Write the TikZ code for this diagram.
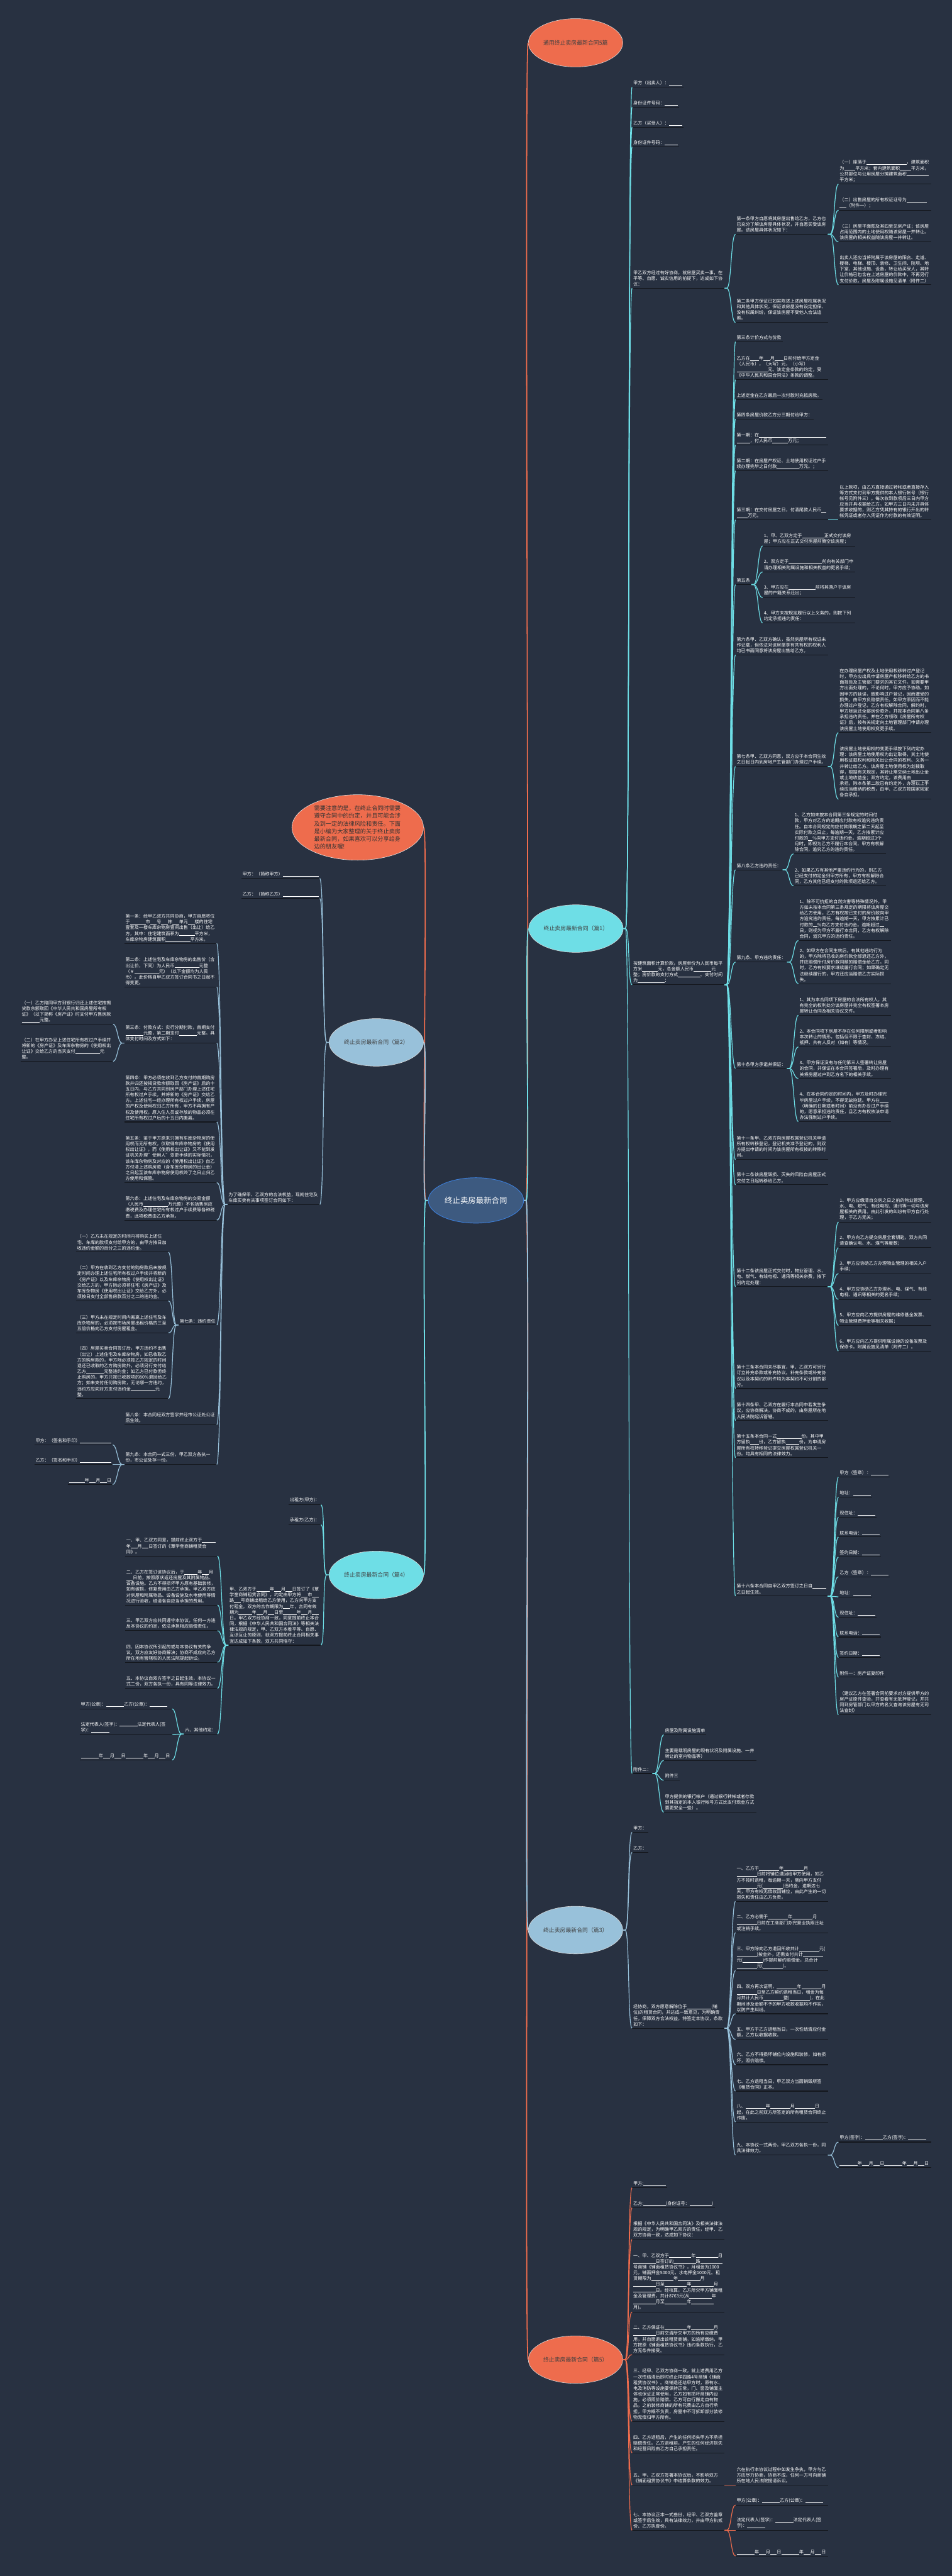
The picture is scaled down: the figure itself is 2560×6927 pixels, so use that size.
\documentclass[tikz,border=0pt]{standalone}
\usepackage{fontspec}
\setmainfont{Noto Sans CJK SC}
\usepackage{tikz}
\usetikzlibrary{shapes.geometric}
\XeTeXlinebreaklocale "zh"
\XeTeXlinebreakskip=0pt plus 0.1pt
\definecolor{bgNavy}{RGB}{40,49,65}
\definecolor{mapCyan}{RGB}{110,222,230}
\definecolor{mapBlue}{RGB}{152,193,218}
\definecolor{mapOrange}{RGB}{238,108,77}
\definecolor{ctrFill}{RGB}{61,90,128}
\definecolor{ctrEdge}{RGB}{60,125,215}
\definecolor{ulDark}{RGB}{20,23,29}
\newcommand{\leaffont}{\fontsize{6}{7.75}\selectfont}
\newcommand{\fillin}[1]{\hskip0pt\rule[-0.6pt]{#1\dimexpr0.5em\relax}{0.35pt}\hskip0pt}

\begin{document}
\begin{tikzpicture}[x=0.5pt, y=-0.5pt,
    uline/.style={draw=ulDark, line width=0.9pt},
    leaf/.style={font=\leaffont, text=white, inner xsep=1.5pt, inner ysep=2.5pt, align=flush left,
      append after command={(\tikzlastnode.south west) edge[uline] (\tikzlastnode.south east)}},
    lr/.style={leaf, anchor=south west},
    ll/.style={leaf, anchor=south east},
    wide/.style={text width=121pt},
    branch/.style={ellipse, draw=white!85!black, line width=0.5pt, minimum width=127pt,
      minimum height=64pt, inner sep=0pt, font=\fontsize{7.5}{9}\selectfont, text=black!75},
    cR/.style={line width=1pt, to path={-- ++(6,0) .. controls +(12,0) and +(-12,0) .. (\tikztotarget)}},
    cL/.style={line width=1pt, to path={-- ++(-6,0) .. controls +(-12,0) and +(12,0) .. (\tikztotarget)}}
  ]
    \useasboundingbox (0,0) rectangle (2560,6927);
    \fill[bgNavy] (0,0) rectangle (2560,6927);

    % Center and main branches
    \node[ellipse, fill=ctrFill, draw=ctrEdge, line width=0.8pt, minimum width=123pt,
      minimum height=61pt, font=\fontsize{10.5}{12}\selectfont, text=white] (ctr) at (1280,3228) {终止卖房最新合同};
    \node[branch, fill=mapOrange, minimum height=65pt] (ttl) at (1548,115) {通用终止卖房最新合同5篇};
    \node[ellipse, fill=mapOrange, draw=white!90!black, line width=0.5pt, minimum width=177pt,
      minimum height=88pt, inner sep=0pt, text width=117pt, align=flush left,
      font=\fontsize{7.75}{10.35}\selectfont, text=black!80] (tip) at (962,2225)
      {需要注意的是，在终止合同时需要遵守合同中的约定，并且可能会涉及到一定的法律风险和责任。下面是小编为大家整理的关于终止卖房最新合同，如果喜欢可以分享给身边的朋友喔!};
    \node[branch, fill=mapCyan] (p1) at (1549,2497) {终止卖房最新合同（篇1）};
    \node[branch, fill=mapBlue] (p2) at (1012,2803) {终止卖房最新合同（篇2）};
    \node[branch, fill=mapBlue] (p3) at (1548,5190) {终止卖房最新合同（篇3）};
    \node[branch, fill=mapCyan] (p4) at (1012,4235) {终止卖房最新合同（篇4）};
    \node[branch, fill=mapOrange] (p5) at (1548,6345) {终止卖房最新合同（篇5）};

    % 篇1
    \node[lr] (a1) at (1700,234) {甲方（出卖人）：\fillin{6}};
    \node[lr] (a2) at (1700,288) {身份证件号码：\fillin{6}};
    \node[lr] (a3) at (1700,342) {乙方（买受人）：\fillin{6}};
    \node[lr] (a4) at (1700,395) {身份证件号码：\fillin{6}};
    \node[lr, wide] (a5) at (1700,775) {甲乙双方经过有好协商，就房屋买卖一事，在平等、自愿、诚实信用的前提下，达成如下协议：};
    \node[lr, wide] (a5a) at (1978,630) {第一条甲方自愿将其房屋出售给乙方，乙方也已充分了解该房屋具体状况，并自愿买受该房屋。该房屋具体状况如下：};
    \node[lr, wide] (a5a1) at (2255,495) {（一）座落于\fillin{18}，建筑面积为\fillin{5}平方米；套内建筑面积\fillin{5}平方米，公共部位与公用房屋分摊建筑面积\fillin{5}\fillin{5}平方米；};
    \node[lr, wide] (a5a2) at (2255,565) {（二）出售房屋的所有权证证号为\fillin{9}\fillin{3}（附件一）；};
    \node[lr, wide] (a5a3) at (2255,650) {（三）房屋平面图及其四至见房产证；该房屋占用范围内的土地使用权随该房屋一并转让。该房屋的相关权益随该房屋一并转让。};
    \node[lr, wide] (a5a4) at (2255,766) {出卖人还应当将附属于该房屋的阳台、走道、楼梯、电梯、楼顶、装修、卫生间、院坝、地下室、其他设施、设备，转让给买受人，其转让价格已包含在上述房屋的价款中，不再另行支付价款。房屋及附属设施见清单（附件二）};
    \node[lr, wide] (a5b) at (1978,867) {第二条甲方保证已如实陈述上述房屋权属状况和其他具体状况，保证该房屋没有设定担保、没有权属纠纷，保证该房屋不受他人合法追索。};
    \node[lr, wide] (a6) at (1700,2648) {按建筑面积计算价款，房屋单价为人民币每平方米\fillin{7}元，总金额人民币\fillin{8}元整；房价款的支付方式\fillin{10}、支付时间为\fillin{3}\fillin{9}：};
    \node[lr] (a6a) at (1978,919) {第三条计价方式与价款};
    \node[lr, wide] (a6b) at (1978,1021) {乙方在\fillin{4}年\fillin{3}月\fillin{4}日前付给甲方定金（人民币），（大写）元，（小写）\fillin{10}\fillin{4}元。该定金条款的约定，受《中华人民共和国合同法》条款的调整。};
    \node[lr] (a6c) at (1978,1074) {上述定金在乙方最后一次付款时充抵房款。};
    \node[lr] (a6d) at (1978,1127) {第四条房屋价款乙方分三期付给甲方：};
    \node[lr, wide] (a6e) at (1978,1197) {第一期：在\fillin{30}\fillin{6}，付人民币\fillin{7}万元；};
    \node[lr, wide] (a6f) at (1978,1266) {第二期：在房屋产权证、土地使用权证过户手续办理完毕之日付款\fillin{10}万元。；};
    \node[lr, wide] (a6g) at (1978,1398) {第三期：在交付房屋之日，付清尾款人民币\fillin{2}\fillin{5}万元。};
    \node[lr, wide] (a6g1) at (2255,1398) {以上款项，由乙方直接通过转帐或者直接存入等方式支付到甲方提供的本人银行帐号（银行帐号见附件三）。每次收到款项后三日内甲方应当开具收据给乙方。如甲方三日内未开具体要求收据的，则乙方凭其持有的银行开出的转帐凭证或者存入凭证作为付款的有效证明。};
    \node[lr] (a6h) at (1978,1572) {第五条};
    \node[lr, wide] (a6h1) at (2051,1468) {1、甲、乙双方定于\fillin{10}正式交付该房屋；甲方应在正式交付房屋前腾空该房屋；};
    \node[lr, wide] (a6h2) at (2051,1538) {2、双方定于\fillin{15}前向有关部门申请办理相关附属设施和相关权益的更名手续；};
    \node[lr, wide] (a6h3) at (2051,1607) {3、甲方应在\fillin{12}前将其落户于该房屋的户籍关系迁出；};
    \node[lr, wide] (a6h4) at (2051,1675) {4、甲方未按规定履行以上义务的，则按下列约定承担违约责任：};
    \node[lr, wide] (a6i) at (1978,1761) {第六条甲、乙双方确认，虽然房屋所有权证未作记载，但依法对该房屋享有共有权的权利人均已书面同意将该房屋出售给乙方。};
    \node[lr, wide] (a6j) at (1978,2061) {第七条甲、乙双方同意，双方应于本合同生效之日起日内到房地产主管部门办理过户手续。};
    \node[lr, wide] (a6j1) at (2255,1970) {在办理房屋产权及土地使用权移转过户登记时，甲方应出具申请房屋产权移转给乙方的书面报告及主管部门要求的其它文件。如需要甲方出面处理的，不论何时，甲方应予协助。如因甲方的延误，致影响过户登记，因而遭受的损失，由甲方负赔偿责任。如甲方原因而不能办理过户登记，乙方有权解除合同，解约时，甲方除返还全部房价款外，并按本合同第八条承担违约责任。并在乙方领取《房屋所有权证》后，按有关规定向土地管理部门申请办理该房屋土地使用权变更手续。};
    \node[lr, wide] (a6j2) at (2255,2149) {该房屋土地使用权的变更手续按下列约定办理：该房屋土地使用权为出让取得，其土地使用权证载权利和相关出让合同的权利、义务一并转让给乙方。该房屋土地使用权为划拨取得，根据有关规定，其转让需交纳土地出让金或土地收益金；双方约定，该费用由\fillin{8}承担。除本条第二款已有约定外，办理以上手续应当缴纳的税费，由甲、乙双方按国家规定各自承担。};
    \node[lr] (a6k) at (1978,2339) {第八条乙方违约责任：};
    \node[lr, wide] (a6k1) at (2134,2296) {1、乙方如未按本合同第三条规定的时间付款，甲方对乙方的逾期应付款有权追究违约责任。自本合同规定的应付款限期之第二天起至实际付款之日止，每逾期一天，乙方按累计应付款的\fillin{2}\%向甲方支付违约金。逾期超过3个月时，即视为乙方不履行本合同，甲方有权解除合同，追究乙方的违约责任。};
    \node[lr, wide] (a6k2) at (2134,2382) {2、如果乙方有其他严重违约行为的，则乙方已经支付的定金归甲方所有，甲方有权解除合同，乙方其他已经支付的款项退还给乙方。};
    \node[lr] (a6l) at (1978,2587) {第九条、甲方违约责任：};
    \node[lr, wide] (a6l1) at (2147,2529) {1、除不可抗拒的自然灾害等特殊情况外，甲方如未按本合同第三条规定的期限将该房屋交给乙方使用，乙方有权按已支付的房价款向甲方追究违约责任。每逾期一天，甲方按累计已付款的\fillin{2}\%向乙方支付违约金。逾期超过\fillin{2}日，则视为甲方不履行本合同，乙方有权解除合同，追究甲方的违约责任。};
    \node[lr, wide] (a6l2) at (2147,2645) {2、如甲方在合同生效后，有其他违约行为的，甲方除将已收的房价款全部退还乙方外，并应赔偿所付房价款同额的赔偿金给乙方。同时，乙方有权要求继续履行合同；如果确定无法继续履行的，甲方还应当赔偿乙方实际损失。};
    \node[lr] (a6m) at (1978,2873) {第十条甲方承诺并保证：};
    \node[lr, wide] (a6m1) at (2147,2730) {1、其为本合同项下房屋的合法所有权人，其有完全的权利处分该房屋并完全有权签署本房屋转让合同及相关协议文件。};
    \node[lr, wide] (a6m2) at (2147,2815) {2、本合同项下房屋不存在任何限制或者影响本次转让的情形，包括但不限于查封、冻结、抵押、共有人反对（如有）等情况。};
    \node[lr, wide] (a6m3) at (2147,2900) {3、甲方保证没有与任何第三人签署转让房屋的合同，并保证在本合同签署后，及时办理有关将房屋过户到乙方名下的相关手续。};
    \node[lr, wide] (a6m4) at (2147,3016) {4、在本合同约定的时间内，甲方及时办理完毕房屋过户手续，不得无故拖延。甲方在\fillin{4}（明确的日期或者时间）前没有办妥过户手续的，愿意承担违约责任，且乙方有权依法申请办法强制过户手续。};
    \node[lr, wide] (a6n) at (1978,3118) {第十一条甲、乙双方向房屋权属登记机关申请所有权转移登记，登记机关准予登记的，则双方提出申请的时间为该房屋所有权按的转移时间。};
    \node[lr, wide] (a6o) at (1978,3186) {第十二条该房屋毁损、灭失的风险自房屋正式交付之日起转移给乙方。};
    \node[lr, wide] (a6p) at (1978,3460) {第十二条该房屋正式交付时，物业管理、水、电、燃气、有线电视、通讯等相关杂费，按下列约定处理：};
    \node[lr, wide] (a6p1) at (2255,3286) {1、甲方应缴清自交房之日之前的物业管理、水、电、燃气、有线电视、通讯等一切与该房屋相关的费用。由此引发的纠纷有甲方自行处理，于乙方无关；};
    \node[lr, wide] (a6p2) at (2255,3355) {2、甲方向乙方提交房屋全套钥匙，双方共同清查确认电、水、煤气等度数；};
    \node[lr, wide] (a6p3) at (2255,3425) {3、甲方应协助乙方办理物业管理的相关入户手续；};
    \node[lr, wide] (a6p4) at (2255,3494) {4、甲方应协助乙方办理水、电、煤气、有线电视、通讯等相关的更名手续；};
    \node[lr, wide] (a6p5) at (2255,3564) {5、甲方应向乙方提供房屋的维修基金发票、物业管理费押金等相关收据；};
    \node[lr, wide] (a6p6) at (2255,3633) {6、甲方应向乙方提供附属设施的设备发票及保修卡。附属设施见清单（附件二）。};
    \node[lr, wide] (a6q) at (1978,3734) {第十三条本合同未尽事宜，甲、乙双方可另行订立补充条款或补充协议。补充条款或补充协议以及本契约的附件均为本契约不可分割的部分。};
    \node[lr, wide] (a6r) at (1978,3820) {第十四条甲、乙双方在履行本合同中若发生争议，应协商解决。协商不成的，由房屋所在地人民法院起诉管辖。};
    \node[lr, wide] (a6s) at (1978,3920) {第十五条本合同一式\fillin{11}份。其中甲方留执\fillin{4}份，乙方留执\fillin{6}份，为申请房屋所有权转移登记提交房屋权属登记机关一份。均具有相同的法律效力。};
    \node[lr, wide] (a6t) at (1978,4292) {第十六条本合同自甲乙双方签订之日自\fillin{5}\fillin{1}之日起生效。};
    \node[lr] (a6t1) at (2255,3972) {甲方（签章）：\fillin{8}};
    \node[lr] (a6t2) at (2255,4026) {地址：\fillin{8}};
    \node[lr] (a6t3) at (2255,4080) {现住址：\fillin{8}};
    \node[lr] (a6t4) at (2255,4133) {联系电话：\fillin{8}};
    \node[lr] (a6t5) at (2255,4187) {签约日期：\fillin{8}};
    \node[lr] (a6t6) at (2255,4240) {乙方（签章）：\fillin{8}};
    \node[lr] (a6t7) at (2255,4294) {地址：\fillin{8}};
    \node[lr] (a6t8) at (2255,4349) {现住址：\fillin{8}};
    \node[lr] (a6t9) at (2255,4402) {联系电话：\fillin{8}};
    \node[lr] (a6t10) at (2255,4457) {签约日期：\fillin{8}};
    \node[lr] (a6t11) at (2255,4510) {附件一：房产证复印件};
    \node[lr, wide] (a6t12) at (2255,4611) {（建议乙方在签署合同前要求对方提供甲方的房产证原件查验，并查看有无抵押登记，并共同到房管部门以甲方的名义查询该房屋有无司法查封）};
    \node[lr] (a7) at (1700,4769) {附件二：};
    \node[lr] (a7a) at (1785,4665) {房屋及附属设施清单};
    \node[lr, wide] (a7b) at (1785,4734) {主要是载明房屋的现有状况及附属设施、一并转让的室内物品等）};
    \node[lr] (a7c) at (1785,4787) {附件三};
    \node[lr, wide] (a7d) at (1785,4873) {甲方提供的银行帐户（通过银行转帐或者存款到其指定的本人银行帐号方式比支付现金方式要更安全一些）。};

    % 篇3
    \node[lr] (c1) at (1700,4927) {甲方：};
    \node[lr] (c2) at (1700,4981) {乙方：};
    \node[lr, wide] (c3) at (1700,5454) {经协商，双方愿意解除位于\fillin{11}(铺位)的租赁合同，并达成一致意见，为明确责任，保障双方合法权益，特签定本协议，条款如下：};
    \node[lr, wide] (c3a) at (1978,5113) {一、乙方于\fillin{9}年\fillin{9}月\fillin{9}日前将铺位退回给甲方使用，如乙方不按时退租，每逾期一天，需向甲方支付\fillin{9}元(\fillin{9})违约金，逾期达七天，甲方有权无偿收回铺位，由此产生的一切损失和责任由乙方负责。};
    \node[lr, wide] (c3b) at (1978,5197) {二、乙方必需于\fillin{9}年\fillin{9}月\fillin{5}\fillin{4}日前在工商部门办完营业执照迁址或注销手续。};
    \node[lr, wide] (c3c) at (1978,5299) {三、甲方除向乙方退回所收共计\fillin{9}元(\fillin{9})按金外，还需支付共计\fillin{9}元(\fillin{9})作提前解约赔偿金，总合计\fillin{9}元(\fillin{9})。};
    \node[lr, wide] (c3d) at (1978,5415) {四、双方再次证明，\fillin{9}年\fillin{9}月\fillin{2}\fillin{7}日至乙方解约退租当日，租金为每月共计人民币\fillin{9}整(\fillin{9})，在此期间涉及金额不予的甲方收款收据均不作实，以防产生纠纷。};
    \node[lr, wide] (c3e) at (1978,5484) {五、甲方于乙方退租当日，一次性结清应付金额，乙方以收据收款。};
    \node[lr, wide] (c3f) at (1978,5552) {六、乙方不得损坏铺位内设施和装修，如有损坏，照价赔偿。};
    \node[lr, wide] (c3g) at (1978,5623) {七、乙方退租当日，甲乙双方当面销毁所签《租赁合同》正本。};
    \node[lr, wide] (c3h) at (1978,5706) {八、\fillin{9}年\fillin{9}月\fillin{9}日起，在此之前双方所签定的所有租赁合同终止作废。};
    \node[lr, wide] (c3i) at (1978,5795) {九、本协议一式两份，甲乙双方各执一份，同具法律效力。};
    \node[lr, wide] (c3i1) at (2255,5760) {甲方(签字)：\fillin{8}乙方(签字)：\fillin{8}};
    \node[lr, wide] (c3i2) at (2255,5829) {\fillin{8}年\fillin{3}月\fillin{3}日\fillin{8}年\fillin{3}月\fillin{3}日};

    % 篇5
    \node[lr] (e1) at (1700,5883) {甲方:\fillin{10}};
    \node[lr] (e2) at (1700,5937) {乙方:\fillin{10}(身份证号：\fillin{10})};
    \node[lr, wide] (e3) at (1700,6022) {根据《中华人民共和国合同法》及相关法律法规的规定，为明确甲乙双方的责任，经甲、乙双方协商一致，达成如下协议：};
    \node[lr, wide] (e4) at (1700,6217) {一、甲、乙双方于\fillin{10}年\fillin{10}月\fillin{10}日签订的\fillin{10}路\fillin{10}号商铺《铺面租赁协议书》，月租金为1000元，铺面押金5000元，水电押金1000元。租赁期限为\fillin{10}年\fillin{10}月\fillin{10}日至\fillin{10}年\fillin{10}月\fillin{10}日。经核算，乙方所欠甲方铺面租金及管理费，共计8763元(从\fillin{10}年\fillin{10}月至\fillin{10}年\fillin{10}月)。};
    \node[lr, wide] (e5) at (1700,6332) {二、乙方保证在\fillin{10}年\fillin{10}月\fillin{10}日前交清所欠甲方的所有应缴费用，并自愿退出该租赁商铺。如逾期缴纳，甲方按原《铺面租赁协议书》违约条款执行，乙方无条件接受。};
    \node[lr, wide] (e6) at (1700,6511) {三、经甲、乙双方协商一致，就上述费用乙方一次性结清后即时终止祥园路4号商铺《铺面租赁协议书》。商铺退还给甲方时，原有水、电及消防等设施要保持正常，门、窗及铺面主体也保证正常使用，乙方如有损坏商铺内设施，必须照价赔偿。乙方可自行搬走自有物品，之前装修商铺的所有花费由乙方自行承担，甲方概不负责，房屋中不可拆卸部分装修物无偿归甲方所有。};
    \node[lr, wide] (e7) at (1700,6596) {四、乙方退租后，产生的任何损失甲方不承担赔偿责任。乙方退租前，产生的任何经济损失和经营风险由乙方自己承担责任。};
    \node[lr, wide] (e8) at (1700,6682) {五、甲、乙双方签署本协议后，不影响双方《铺面租赁协议书》中结算条款的效力。};
    \node[lr, wide] (e8a) at (1978,6682) {六在执行本协议过程中如发生争执，甲方与乙方应尽力协商，协商不成，任何一方可向商铺所在地人民法院提请诉讼。};
    \node[lr, wide] (e9) at (1700,6804) {七、本协议正本一式叁份，经甲、乙双方盖章或签字后生效，具有法律效力，并由甲方执贰份、乙方执壹份。};
    \node[lr, wide] (e9a) at (1978,6736) {甲方(公章)：\fillin{8}乙方(公章)：\fillin{8}};
    \node[lr, wide] (e9b) at (1978,6804) {法定代表人(签字)：\fillin{8}法定代表人(签字)：\fillin{8}};
    \node[lr, wide] (e9c) at (1978,6873) {\fillin{8}年\fillin{3}月\fillin{3}日\fillin{8}年\fillin{3}月\fillin{3}日};

    % 篇2
    \node[ll] (b1) at (860,2362) {甲方：（简称甲方）\fillin{16}};
    \node[ll] (b2) at (860,2416) {乙方：（简称乙方）\fillin{16}};
    \node[ll, wide] (b3) at (860,3239) {为了确保甲、乙双方的合法权益，现就住宅及车库买卖有关事项签订合同如下：};
    \node[ll, wide] (b3a) at (583,2537) {第一条：经甲乙双方共同协商，甲方自愿将位于\fillin{7}市\fillin{3}号\fillin{3}栋\fillin{3}单元\fillin{3}楼的住宅壹套及一楼车库杂物房壹间出售（出让）给乙方，其中：住宅建筑面积为\fillin{7}平方米，车库杂物房建筑面积\fillin{11}平方米。};
    \node[ll, wide] (b3b) at (583,2654) {第二条：上述住宅及车库杂物房的出售价（含出让价，下同）为人民币\fillin{11}元整（￥\fillin{11}元）（以下金额均为人民币）。此价格自甲乙双方签订合同书之日起不得变更。};
    \node[ll, wide] (b3c) at (583,2805) {第三条：付款方式：实行分期付款，首期支付\fillin{8}元整，第二期支付\fillin{8}元整。具体支付时间及方式如下：};
    \node[ll, wide] (b3c1) at (304,2754) {（一）乙方陪同甲方到银行归还上述住宅按揭贷款余额取回《中华人民共和国房屋所有权证》（以下简称《房产证》时支付甲方售房款\fillin{2}\fillin{6}元整。};
    \node[ll, wide] (b3c2) at (304,2854) {（二）在甲方办妥上述住宅所有权过户手续并将新的《房产证》及车库杂物房的《使用权出让证》交给乙方的当天支付\fillin{11}元整。};
    \node[ll, wide] (b3d) at (583,3017) {第四条：甲方必须在收到乙方支付的首期购房款并归还按揭贷款余额取回《房产证》后的十五日内，与乙方共同到房产部门办理上述住宅所有权过户手续，并将新的《房产证》交给乙方。上述住宅一经办理所有权过户手续，房屋的产权及使用权归乙方所有，甲方不再拥有产权及使用权，原入住人员或存放的物品必须在住宅所有权过户后的十五日内搬离。};
    \node[ll, wide] (b3e) at (583,3180) {第五条：鉴于甲方原来只拥有车库杂物房的使用权而无所有权，仅取得车库杂物房的《使用权出让证》，而《使用权出让证》又不能到发证机关办理"使用人"变更手续的实际情况，该车库杂物房及对应的《使用权出让证》自乙方付清上述购房款（含车库杂物房的出让金）之日起至该车库杂物房使用权终了之日止归乙方使用和保管。};
    \node[ll, wide] (b3f) at (583,3281) {第六条：上述住宅及车库杂物房的交易金额（人民币\fillin{11}万元整）不包括售房应缴税费及办理住宅所有权过户手续费等各种税费，此项税费由乙方承担。};
    \node[ll] (b3g) at (583,3563) {第七条：违约责任};
    \node[ll, wide] (b3g1) at (453,3367) {（一）乙方未在规定的时间内将购买上述住宅、车库的款项支付给甲方的，由甲方按日加收违约金额的百分之三的违约金。};
    \node[ll, wide] (b3g2) at (453,3498) {（二）甲方在收到乙方支付的购房款后未按规定时间办理上述住宅所有权过户手续并将新的《房产证》以及车库杂物房《使用权出让证》交给乙方的，甲方除必须将住宅《房产证》及车库杂物房《使用权出让证》交给乙方外，必须按日支付全部售房款百分之二的违约金。};
    \node[ll, wide] (b3g3) at (453,3584) {（三）甲方未在规定时间内搬离上述住宅及车库杂物房的，必须按市场房屋出租价格的三至五倍价格向乙方支付房屋租金。};
    \node[ll, wide] (b3g4) at (453,3761) {（四）房屋买卖合同签订后，甲方违约不出售（出让）上述住宅及车库杂物房，如已收取乙方的购房款的，甲方除必须按乙方规定的时间退还已收取的乙方购房款外，必须另行支付给乙方\fillin{8}元整违约金；如乙方已付款但终止购房的，甲方只按已收款项的80\%退回给乙方；如未支付任何购房款，无论哪一方违约，违约方应向对方支付违约金\fillin{11}元整。};
    \node[ll, wide] (b3h) at (583,3831) {第八条：本合同经双方签字并经市公证处公证后生效。};
    \node[ll, wide] (b3i) at (583,3938) {第九条：本合同一式三份，甲乙双方各执一份，市公证处存一份。};
    \node[ll] (b3i1) at (303,3885) {甲方：（签名和手印）\fillin{14}};
    \node[ll] (b3i2) at (303,3938) {乙方：（签名和手印）\fillin{14}};
    \node[ll] (b3i3) at (303,3992) {\fillin{7}年\fillin{3}月\fillin{3}日};

    % 篇4
    \node[ll] (d1) at (863,4046) {出租方(甲方)：};
    \node[ll] (d2) at (863,4100) {承租方(乙方)：};
    \node[ll, wide] (d3) at (863,4424) {甲、乙双方于\fillin{6}年\fillin{3}月\fillin{3}日签订了《覃学奎商铺租赁合同》，约定由甲方将\fillin{3}市\fillin{3}路\fillin{3}号商铺出租给乙方使用，乙方向甲方支付租金。双方的合作期限为\fillin{3}年，合同有效期为\fillin{6}年\fillin{3}月\fillin{3}日至\fillin{6}年\fillin{3}月\fillin{3}日。甲乙双方经协商一致，同意提前终止本合同，根据《中华人民共和国合同法》等相关法律法规的规定，甲、乙双方本着平等、自愿、互谅互让的原则，就双方提前终止合同相关事宜达成如下条款，双方共同恪守：};
    \node[ll, wide] (d3a) at (585,4184) {一、甲、乙双方同意，提前终止双方于\fillin{5}\fillin{1}年\fillin{3}月\fillin{3}日签订的《覃学奎商铺租赁合同》。};
    \node[ll, wide] (d3b) at (585,4316) {二、乙方在签订该协议后，于\fillin{6}年\fillin{3}月\fillin{3}日前，按照原状返还房屋及其附属物品、设备设施。乙方不得损坏甲方原有基础装修，如有破损，修复费用由乙方承担。甲乙双方应对房屋和附属物品、设备设施及水电使用等情况进行验收，结清各自应当承担的费用。};
    \node[ll, wide] (d3c) at (585,4385) {三、甲乙双方应共同遵守本协议，任何一方违反本协议的约定，依法承担相应赔偿责任。};
    \node[ll, wide] (d3d) at (585,4470) {四、因本协议所引起的或与本协议有关的争议，双方应友好协商解决；协商不成应向乙方所在地有管辖权的人民法院提起诉讼。};
    \node[ll, wide] (d3e) at (585,4540) {五、本协议自双方签字之日起生效，本协议一式二份，双方各执一份，具有同等法律效力。};
    \node[ll] (d3f) at (585,4663) {六、其他约定：};
    \node[ll, wide] (d3f1) at (463,4595) {甲方(公章)：\fillin{8}乙方(公章)：\fillin{8}};
    \node[ll, wide] (d3f2) at (463,4664) {法定代表人(签字)：\fillin{8}法定代表人(签字)：\fillin{8}};
    \node[ll, wide] (d3f3) at (463,4733) {\fillin{8}年\fillin{3}月\fillin{3}日\fillin{8}年\fillin{3}月\fillin{3}日};

    % Trunk connectors
    \draw[cR, line width=1.5pt, mapOrange] (ctr.east) edge (ttl.west) edge (p5.west);
    \draw[cR, line width=1.5pt, mapCyan] (ctr.east) edge (p1.west);
    \draw[cR, line width=1.5pt, mapBlue] (ctr.east) edge (p3.west);
    \draw[cL, line width=1.5pt, mapOrange] (ctr.west) edge (tip.east);
    \draw[cL, line width=1.5pt, mapBlue] (ctr.west) edge (p2.east);
    \draw[cL, line width=1.5pt, mapCyan] (ctr.west) edge (p4.east);

    % 篇1 connectors
    \draw[cR, mapCyan] (p1.east) edge (a1.south west) edge (a2.south west) edge (a3.south west)
      edge (a4.south west) edge (a5.south west) edge (a6.south west) edge (a7.south west);
    \draw[cR, mapCyan] (a5.south east) edge (a5a.south west) edge (a5b.south west);
    \draw[cR, mapCyan] (a5a.south east) edge (a5a1.south west) edge (a5a2.south west)
      edge (a5a3.south west) edge (a5a4.south west);
    \draw[cR, mapCyan] (a6.south east) edge (a6a.south west) edge (a6b.south west) edge (a6c.south west)
      edge (a6d.south west) edge (a6e.south west) edge (a6f.south west) edge (a6g.south west)
      edge (a6h.south west) edge (a6i.south west) edge (a6j.south west) edge (a6k.south west)
      edge (a6l.south west) edge (a6m.south west) edge (a6n.south west) edge (a6o.south west)
      edge (a6p.south west) edge (a6q.south west) edge (a6r.south west) edge (a6s.south west)
      edge (a6t.south west);
    \draw[cR, mapCyan] (a6g.south east) edge (a6g1.south west);
    \draw[cR, mapCyan] (a6h.south east) edge (a6h1.south west) edge (a6h2.south west)
      edge (a6h3.south west) edge (a6h4.south west);
    \draw[cR, mapCyan] (a6j.south east) edge (a6j1.south west) edge (a6j2.south west);
    \draw[cR, mapCyan] (a6k.south east) edge (a6k1.south west) edge (a6k2.south west);
    \draw[cR, mapCyan] (a6l.south east) edge (a6l1.south west) edge (a6l2.south west);
    \draw[cR, mapCyan] (a6m.south east) edge (a6m1.south west) edge (a6m2.south west)
      edge (a6m3.south west) edge (a6m4.south west);
    \draw[cR, mapCyan] (a6p.south east) edge (a6p1.south west) edge (a6p2.south west) edge (a6p3.south west)
      edge (a6p4.south west) edge (a6p5.south west) edge (a6p6.south west);
    \draw[cR, mapCyan] (a6t.south east) edge (a6t1.south west) edge (a6t2.south west) edge (a6t3.south west)
      edge (a6t4.south west) edge (a6t5.south west) edge (a6t6.south west) edge (a6t7.south west)
      edge (a6t8.south west) edge (a6t9.south west) edge (a6t10.south west) edge (a6t11.south west)
      edge (a6t12.south west);
    \draw[cR, mapCyan] (a7.south east) edge (a7a.south west) edge (a7b.south west)
      edge (a7c.south west) edge (a7d.south west);

    % 篇3 connectors
    \draw[cR, mapBlue] (p3.east) edge (c1.south west) edge (c2.south west) edge (c3.south west);
    \draw[cR, mapBlue] (c3.south east) edge (c3a.south west) edge (c3b.south west) edge (c3c.south west)
      edge (c3d.south west) edge (c3e.south west) edge (c3f.south west) edge (c3g.south west)
      edge (c3h.south west) edge (c3i.south west);
    \draw[cR, mapBlue] (c3i.south east) edge (c3i1.south west) edge (c3i2.south west);

    % 篇5 connectors
    \draw[cR, mapOrange] (p5.east) edge (e1.south west) edge (e2.south west) edge (e3.south west)
      edge (e4.south west) edge (e5.south west) edge (e6.south west) edge (e7.south west)
      edge (e8.south west) edge (e9.south west);
    \draw[cR, mapOrange] (e8.south east) edge (e8a.south west);
    \draw[cR, mapOrange] (e9.south east) edge (e9a.south west) edge (e9b.south west) edge (e9c.south west);

    % 篇2 connectors
    \draw[cL, mapBlue] (p2.west) edge (b1.south east) edge (b2.south east) edge (b3.south east);
    \draw[cL, mapBlue] (b3.south west) edge (b3a.south east) edge (b3b.south east) edge (b3c.south east)
      edge (b3d.south east) edge (b3e.south east) edge (b3f.south east) edge (b3g.south east)
      edge (b3h.south east) edge (b3i.south east);
    \draw[cL, mapBlue] (b3c.south west) edge (b3c1.south east) edge (b3c2.south east);
    \draw[cL, mapBlue] (b3g.south west) edge (b3g1.south east) edge (b3g2.south east)
      edge (b3g3.south east) edge (b3g4.south east);
    \draw[cL, mapBlue] (b3i.south west) edge (b3i1.south east) edge (b3i2.south east) edge (b3i3.south east);

    % 篇4 connectors
    \draw[cL, mapCyan] (p4.west) edge (d1.south east) edge (d2.south east) edge (d3.south east);
    \draw[cL, mapCyan] (d3.south west) edge (d3a.south east) edge (d3b.south east) edge (d3c.south east)
      edge (d3d.south east) edge (d3e.south east) edge (d3f.south east);
    \draw[cL, mapCyan] (d3f.south west) edge (d3f1.south east) edge (d3f2.south east) edge (d3f3.south east);
  \end{tikzpicture}
\end{document}
